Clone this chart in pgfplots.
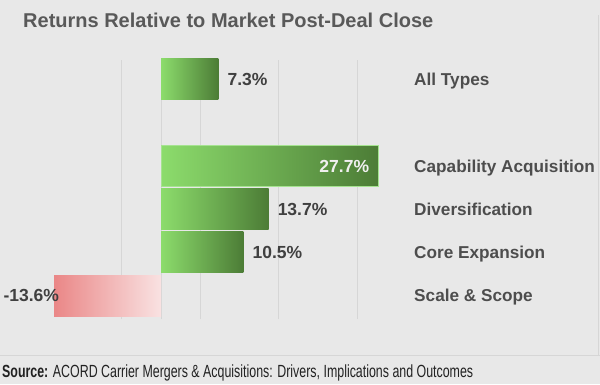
\documentclass[border=0pt]{standalone}
\usepackage{pgfplots}
\pgfplotsset{compat=1.18}
\usepackage{fontspec}
\setmainfont{Liberation Sans}
\usepackage{graphicx}
\definecolor{bg}{HTML}{E8E8E8}
\definecolor{gridc}{HTML}{D6D6D6}
\definecolor{gA}{HTML}{8CDC6C}
\definecolor{gB}{HTML}{4C7C36}
\definecolor{gE}{HTML}{A5E390}
\definecolor{rA}{HTML}{EA8787}
\definecolor{rB}{HTML}{F9E2E2}
\definecolor{lbl}{HTML}{404040}
\definecolor{cat}{HTML}{4D4D4D}
\definecolor{ttl}{HTML}{595959}
\definecolor{src}{HTML}{222222}
\begin{document}
\begin{tikzpicture}[x=1pt,y=1pt,
  catlbl/.style={anchor=west, inner sep=0pt, text=cat, text height=12.3pt, text depth=0pt,
    font=\fontsize{17.2}{20}\selectfont\bfseries}]
\useasboundingbox (0,0) rectangle (600,384);
\fill[bg] (0,0) rectangle (600,384);
\draw[gridc, line width=0.7pt] (0,29) -- (600,29);
\draw[gridc, line width=0.7pt] (598.5,29) -- (598.5,369);
\node[anchor=base west, inner sep=0pt, text=ttl, font=\fontsize{20}{24}\selectfont\bfseries] at (23,356) {Returns Relative to Market Post-Deal Close};
\node[anchor=base west, inner sep=0pt, text=src] at (2,7) {\resizebox{471pt}{\height}{\fontsize{17.6}{20}\selectfont\textbf{Source:} ACORD Carrier Mergers \& Acquisitions: Drivers, Implications and Outcomes}};
\begin{axis}[at={(0pt,0pt)}, anchor=south west, scale only axis,
  width=600pt, height=384pt,
  xmin=-20.51, xmax=55.92, ymin=-2.0486, ymax=6.8403,
  hide axis, clip=false,
  mybar/.style={xbar, bar width=41pt, bar shift=0pt, draw=none,
    point meta=explicit symbolic, nodes near coords,
    nodes near coords align=horizontal},
  every node near coord/.append style={font=\fontsize{17.5}{20}\selectfont\bfseries,
    text=lbl, inner sep=0pt, text height=12.5pt, text depth=0pt}]
% grid lines
\draw[gridc, line width=0.7pt] (axis cs:-5,-0.544) -- (axis cs:-5,5.451);
\draw[gridc, line width=0.7pt] (axis cs:0,-0.544) -- (axis cs:0,5.451);
\draw[gridc, line width=0.7pt] (axis cs:5,-0.544) -- (axis cs:5,5.451);
\draw[gridc, line width=0.7pt] (axis cs:15,-0.544) -- (axis cs:15,5.451);
\draw[gridc, line width=0.7pt] (axis cs:25,-0.544) -- (axis cs:25,5.451);
% bars
\addplot[mybar, left color=gA, right color=gB,
  every node near coord/.append style={anchor=west, xshift=9pt}]
  coordinates {(7.3,5) [7.3\%]};
\addplot[mybar, left color=gA, right color=gB, draw=gE, line width=0.8pt,
  every node near coord/.append style={anchor=east, xshift=-9pt, text=white!94!black}]
  coordinates {(27.7,3) [27.7\%]};
\addplot[mybar, left color=gA, right color=gB,
  every node near coord/.append style={anchor=west, xshift=9pt}]
  coordinates {(13.7,2) [13.7\%]};
\addplot[mybar, left color=gA, right color=gB,
  every node near coord/.append style={anchor=west, xshift=9pt}]
  coordinates {(10.5,1) [10.5\%]};
\addplot[mybar, left color=rA, right color=rB,
  every node near coord/.append style={anchor=east, xshift=5pt}]
  coordinates {(-13.6,0) [-13.6\%]};
% category labels
\node[catlbl] at (axis cs:32.23,5) {All Types};
\node[catlbl] at (axis cs:32.23,3) {Capability Acquisition};
\node[catlbl] at (axis cs:32.23,2) {Diversification};
\node[catlbl] at (axis cs:32.23,1) {Core Expansion};
\node[catlbl] at (axis cs:32.23,0) {Scale \& Scope};
\end{axis}
\end{tikzpicture}
\end{document}
